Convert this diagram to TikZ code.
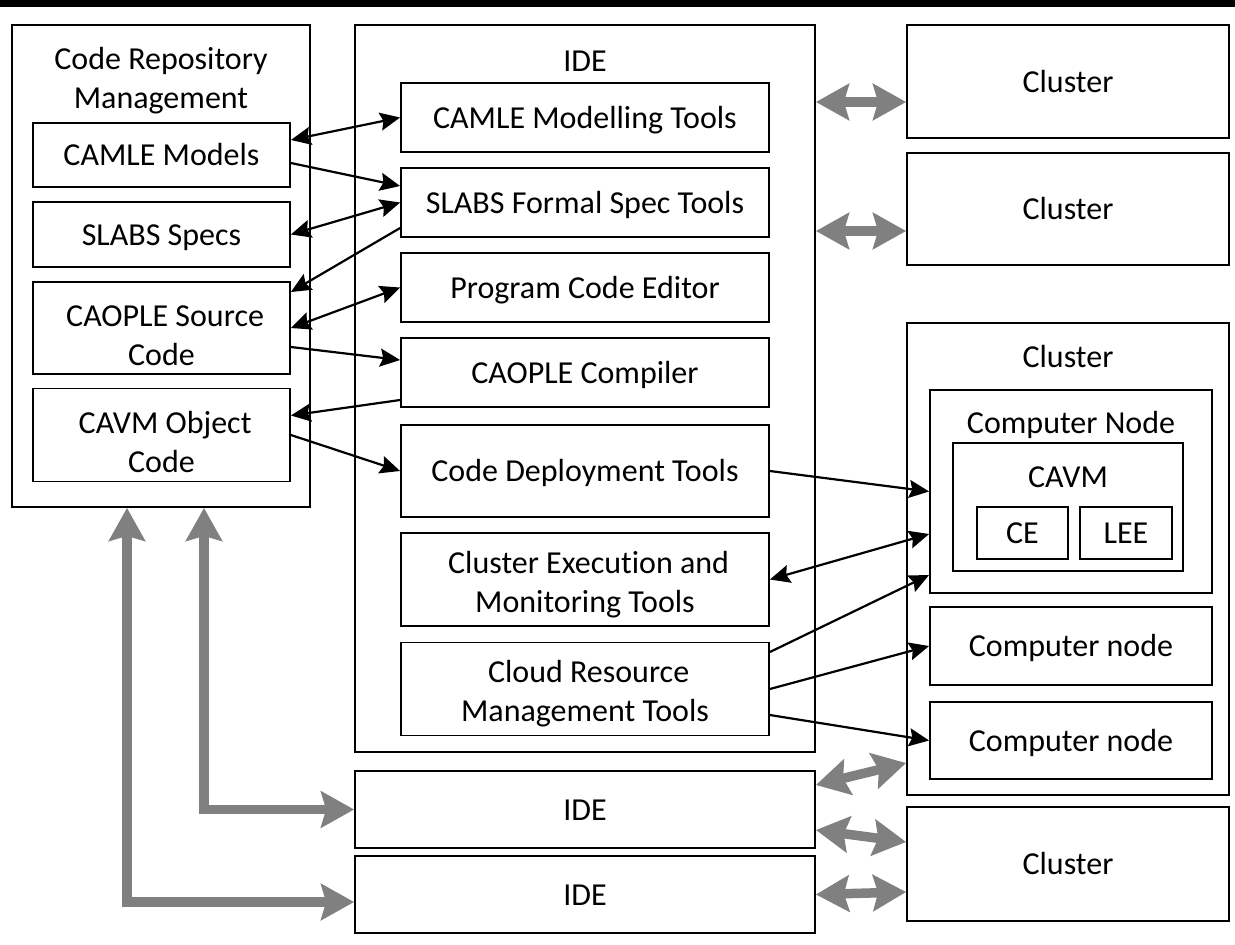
\documentclass[tikz,border=0pt]{standalone}
\usepackage{fontspec}
\setmainfont[Ligatures=NoCommon]{Carlito}
\usetikzlibrary{arrows.meta}
\definecolor{garr}{RGB}{128,128,128}
\newcommand\SL[1][0]{\rule[-8.6pt]{0pt}{\dimexpr 39pt+#1pt\relax}}
\begin{document}
\begin{tikzpicture}[x=1pt,y=-1pt,
  box/.style={draw, line width=1.8pt, inner sep=0pt, align=center, font=\fontsize{32}{39}\selectfont},
  ttl/.style={inner sep=0pt, align=center, font=\fontsize{32}{39}\selectfont},
  btip/.tip={Stealth[length=20pt,width=18pt,inset=3pt]},
  gtip/.tip={Stealth[length=33pt,width=36pt,inset=5pt]},
  barrow/.style={line width=2.2pt, -btip},
  bdarrow/.style={line width=2.2pt, btip-btip},
  garrow/.style={draw=garr, line width=9.5pt, line join=miter, gtip-gtip}
]
\useasboundingbox (0,0) rectangle (1235,945);
\fill[black] (0,0) rectangle (1235,7);

% code repository
\node[box, minimum width=298pt, minimum height=482pt] (repo) at (161,266) {};
\node[ttl] (repot) at (161,78.5) {\SL Code Repository\\\SL Management};
\node[box, minimum width=257pt, minimum height=64pt] (cm) at (161.5,155) {\SL CAMLE Models};
\node[box, minimum width=257pt, minimum height=65pt] (ss) at (161.5,234.5) {\SL SLABS Specs};
\node[box, minimum width=257pt, minimum height=92pt] (cs) at (161.5,328) {\SL[14] CAOPLE Source\\\SL Code};
\node[box, minimum width=257pt, minimum height=93pt] (co) at (161.5,435) {\SL[15] CAVM Object\\\SL Code};

% IDE
\node[box, minimum width=460pt, minimum height=727pt] (ide) at (585,388.5) {};
\node[ttl] (idet) at (585,60.5) {\SL IDE};
\node[box, minimum width=368pt, minimum height=69pt] (t1) at (585,117.5) {\SL CAMLE Modelling Tools};
\node[box, minimum width=368pt, minimum height=69pt] (t2) at (585,202.5) {\SL SLABS Formal Spec Tools};
\node[box, minimum width=368pt, minimum height=69pt] (t3) at (585,287.5) {\SL Program Code Editor};
\node[box, minimum width=368pt, minimum height=69pt] (t4) at (585,372.5) {\SL CAOPLE Compiler};
\node[box, minimum width=368pt, minimum height=92pt] (t5) at (585,471) {\SL Code Deployment Tools};
\node[box, minimum width=368pt, minimum height=93pt] (t6) at (585,579.5) {\SL[5] Cluster Execution and\\\SL Monitoring Tools};
\node[box, minimum width=368pt, minimum height=93pt] (t7) at (585,689) {\SL[5] Cloud Resource\\\SL Management Tools};

\node[box, minimum width=460pt, minimum height=77pt] (ide2) at (585,809.5) {\SL IDE};
\node[box, minimum width=460pt, minimum height=77pt] (ide3) at (585,894.5) {\SL IDE};

% clusters
\node[box, minimum width=322pt, minimum height=113pt] (cl1) at (1068,81.5) {\SL Cluster};
\node[box, minimum width=322pt, minimum height=112pt] (cl2) at (1068,209) {\SL Cluster};
\node[box, minimum width=322pt, minimum height=472pt] (cl3) at (1068,559) {};
\node[ttl] (cl3t) at (1068,357) {\SL Cluster};
\node[box, minimum width=282pt, minimum height=203pt] (cn) at (1071,491.5) {};
\node[ttl] (cnt) at (1071,423) {\SL Computer Node};
\node[box, minimum width=230pt, minimum height=128pt] (cavm) at (1068,507) {};
\node[ttl] (cavmt) at (1068,476.5) {\SL CAVM};
\node[box, minimum width=91pt, minimum height=52pt] (ce) at (1022.5,533) {\SL CE};
\node[box, minimum width=92pt, minimum height=52pt] (lee) at (1126,533) {\SL LEE};
\node[box, minimum width=282pt, minimum height=78pt] (cn2) at (1071,646) {\SL Computer node};
\node[box, minimum width=282pt, minimum height=77pt] (cn3) at (1071,740.5) {\SL Computer node};
\node[box, minimum width=322pt, minimum height=114pt] (cl4) at (1068,864) {\SL Cluster};

% black arrows
\draw[bdarrow] ([yshift=15pt]cm.east) -- (t1.west);
\draw[barrow] ([yshift=-8pt]cm.east) -- ([yshift=16.5pt]t2.west);
\draw[bdarrow] (ss.east) -- (t2.west);
\draw[barrow] ([yshift=-25.5pt]t2.west) -- ([yshift=36pt]cs.east);
\draw[bdarrow] (cs.east) -- (t3.west);
\draw[barrow] ([yshift=-19pt]cs.east) -- ([yshift=12.5pt]t4.west);
\draw[barrow] ([yshift=-27.5pt]t4.west) -- ([yshift=19.5pt]co.east);
\draw[barrow] (co.east) -- (t5.west);
\draw[barrow] (t5.east) -- (cn.west);
\draw[bdarrow] (t6.east) -- ([yshift=-42.5pt]cn.west);
\draw[barrow] ([yshift=37pt]t7.east) -- ([yshift=-83.5pt]cn.west);
\draw[barrow] (t7.east) -- (cn2.west);
\draw[barrow] ([yshift=-26pt]t7.east) -- (cn3.west);

% gray arrows
\coordinate (a1) at ([yshift=-20.5pt]cl1.west);
\coordinate (a2) at ([yshift=-22pt]cl2.west);
\draw[garrow] (ide.east |- a1) -- (a1);
\draw[garrow] (ide.east |- a2) -- (a2);
\draw[garrow] ([yshift=24.5pt]ide2.east) -- ([yshift=-204pt]cl3.west);
\draw[garrow] ([yshift=-20.5pt]ide2.east) -- ([yshift=22pt]cl4.west);
\draw[garrow] (ide3.east) -- ([yshift=-28pt]cl4.west);
\coordinate (g1) at (127,0);
\coordinate (g2) at (204,0);
\coordinate (i3) at ([yshift=-7.5pt]ide3.west);
\draw[garrow] (g1 |- repo.south) |- (i3);
\draw[garrow] (g2 |- repo.south) |- (ide2.west);
\end{tikzpicture}
\end{document}
